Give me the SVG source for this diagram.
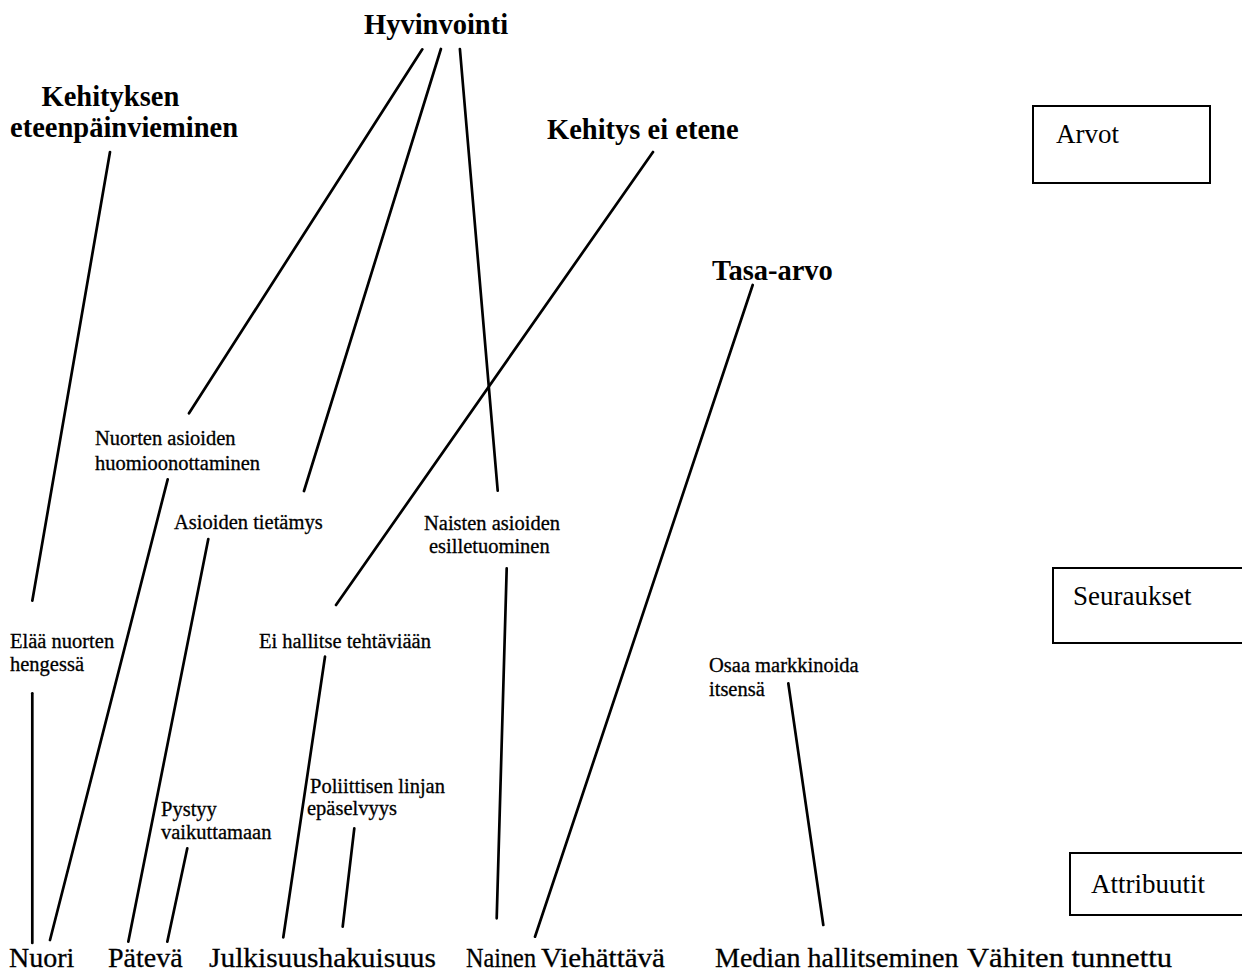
<svg xmlns="http://www.w3.org/2000/svg" width="1242" height="973" viewBox="0 0 1242 973">
  <style>
    .val { font-family: "Liberation Serif", "Times New Roman", serif; font-weight: bold; font-size: 28.5px; fill: #000; }
    .mid { font-family: "Liberation Serif", "Times New Roman", serif; font-size: 20.5px; fill: #000; stroke: #000; stroke-width: 0.3; }
    .attr { font-family: "Liberation Serif", "Times New Roman", serif; font-size: 28px; fill: #000; stroke: #000; stroke-width: 0.3; }
    .legend { font-family: "Liberation Serif", "Times New Roman", serif; font-size: 27px; fill: #000; }
    .box { fill: #fff; stroke: #000; stroke-width: 2; }
    .links line { stroke: #000; stroke-width: 2.7; stroke-linecap: round; }
  </style>
  <rect width="1242" height="973" fill="#fff"/>

  <!-- connectors -->
  <g class="links" id="connectors">
    <line x1="110" y1="152" x2="32.3" y2="600.7"/>
    <line x1="422.3" y1="49.3" x2="189" y2="413.3"/>
    <line x1="440.9" y1="49" x2="304" y2="491"/>
    <line x1="459.9" y1="49" x2="497.7" y2="490.7"/>
    <line x1="653" y1="152" x2="336" y2="605"/>
    <line x1="752.7" y1="285" x2="535" y2="936.7"/>
    <line x1="167.7" y1="479.3" x2="50" y2="940"/>
    <line x1="32.3" y1="693.3" x2="32.3" y2="943"/>
    <line x1="208.3" y1="539" x2="128.3" y2="941.7"/>
    <line x1="187.3" y1="848.3" x2="167.3" y2="941.7"/>
    <line x1="325" y1="656.7" x2="283.3" y2="937.3"/>
    <line x1="354.3" y1="828.3" x2="342.7" y2="926.7"/>
    <line x1="506.7" y1="568.3" x2="496.7" y2="918.3"/>
    <line x1="788.3" y1="683.3" x2="823.3" y2="925"/>
  </g>

  <!-- values -->
  <g id="hyvinvointi"><text class="val" x="364" y="34">Hyvinvointi</text></g>
  <g id="kehityksen-eteenpainvieminen">
    <text class="val" x="41.5" y="106">Kehityksen</text>
    <text class="val" x="10" y="137">eteenpäinvieminen</text>
  </g>
  <g id="kehitys-ei-etene"><text class="val" x="547" y="139">Kehitys ei etene</text></g>
  <g id="tasa-arvo"><text class="val" x="712" y="280">Tasa-arvo</text></g>

  <!-- consequences -->
  <g id="nuorten-asioiden">
    <text class="mid" x="95" y="445">Nuorten asioiden</text>
    <text class="mid" x="95" y="470">huomioonottaminen</text>
  </g>
  <g id="asioiden-tietamys"><text class="mid" x="174" y="529">Asioiden tietämys</text></g>
  <g id="naisten-asioiden">
    <text class="mid" x="424" y="530">Naisten asioiden</text>
    <text class="mid" x="429" y="553">esilletuominen</text>
  </g>
  <g id="elaa-nuorten">
    <text class="mid" x="10" y="648">Elää nuorten</text>
    <text class="mid" x="10" y="671">hengessä</text>
  </g>
  <g id="ei-hallitse"><text class="mid" x="259" y="648">Ei hallitse tehtäviään</text></g>
  <g id="osaa-markkinoida">
    <text class="mid" x="709" y="672">Osaa markkinoida</text>
    <text class="mid" x="709" y="696">itsensä</text>
  </g>
  <g id="pystyy-vaikuttamaan">
    <text class="mid" x="161" y="816">Pystyy</text>
    <text class="mid" x="161" y="839">vaikuttamaan</text>
  </g>
  <g id="poliittisen-linjan">
    <text class="mid" x="310" y="793">Poliittisen linjan</text>
    <text class="mid" x="307" y="815">epäselvyys</text>
  </g>

  <!-- attributes -->
  <g id="nuori"><text class="attr" x="9" y="967">Nuori</text></g>
  <g id="pateva"><text class="attr" x="108" y="967">Pätevä</text></g>
  <g id="julkisuushakuisuus"><text class="attr" x="209" y="967" textLength="227" lengthAdjust="spacingAndGlyphs">Julkisuushakuisuus</text></g>
  <g id="nainen"><text class="attr" x="466" y="967" textLength="70" lengthAdjust="spacingAndGlyphs">Nainen</text></g>
  <g id="viehattava"><text class="attr" x="541" y="967" textLength="124" lengthAdjust="spacingAndGlyphs">Viehättävä</text></g>
  <g id="median-hallitseminen"><text class="attr" x="715" y="967">Median hallitseminen</text></g>
  <g id="vahiten-tunnettu"><text class="attr" x="967" y="967" textLength="205" lengthAdjust="spacingAndGlyphs">Vähiten tunnettu</text></g>

  <!-- level legend -->
  <g id="legend-arvot">
    <rect class="box" x="1033" y="106" width="177" height="77"/>
    <text class="legend" x="1056" y="143">Arvot</text>
  </g>
  <g id="legend-seuraukset">
    <rect class="box" x="1053" y="568" width="195" height="75"/>
    <text class="legend" x="1073" y="605">Seuraukset</text>
  </g>
  <g id="legend-attribuutit">
    <rect class="box" x="1070" y="853" width="178" height="62"/>
    <text class="legend" x="1091" y="893">Attribuutit</text>
  </g>
</svg>
